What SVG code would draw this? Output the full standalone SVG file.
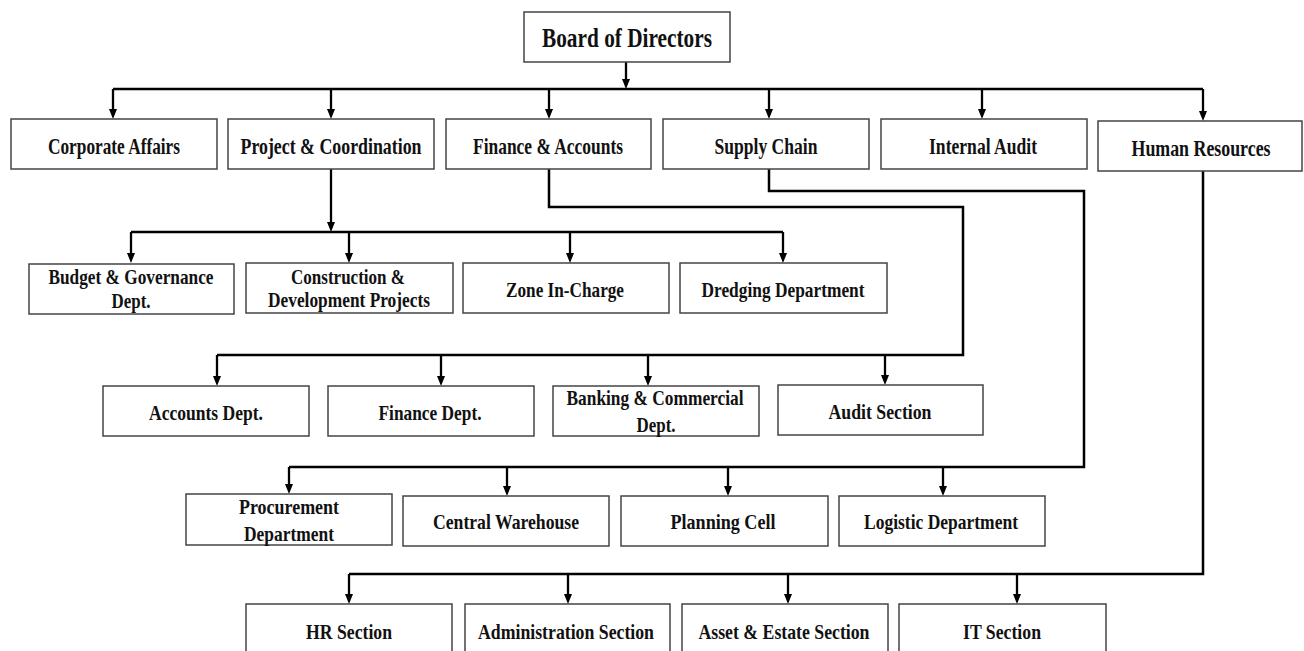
<svg xmlns="http://www.w3.org/2000/svg" width="1304" height="651" viewBox="0 0 1304 651">
<style>
.box{fill:#fff;stroke:#444;stroke-width:1.5}
.t{font-family:"Liberation Serif","Times New Roman",serif;font-weight:bold;font-size:22px;fill:#111;text-anchor:middle}
.t1{font-size:23px}
.tb{font-size:27px}
.c{fill:none;stroke:#000;stroke-width:2.3;marker-end:url(#ah)}
.b{fill:none;stroke:#000;stroke-width:2.5}
</style>
<defs>
<marker id="ah" markerUnits="userSpaceOnUse" markerWidth="10" markerHeight="8" refX="4" refY="4" orient="auto">
<path d="M0,0 L10,4 L0,8 z" fill="#000"/>
</marker>
</defs>
<rect width="1304" height="651" fill="#fff"/>
<g id="connectors">
<path class="c" d="M626,62 V83"/>
<path class="b" d="M113,89 H1203"/>
<path class="c" d="M113,89 V113"/>
<path class="c" d="M331,89 V113"/>
<path class="c" d="M549,89 V113"/>
<path class="c" d="M769,89 V113"/>
<path class="c" d="M982,89 V113"/>
<path class="c" d="M1203,89 V115"/>
<path class="c" d="M331,169 V226"/>
<path class="b" d="M131,232 H783"/>
<path class="c" d="M131,232 V257"/>
<path class="c" d="M349,232 V257"/>
<path class="c" d="M570,232 V257"/>
<path class="c" d="M783,232 V257"/>
<path class="b" d="M549,169 V207 H963 V355 H217"/>
<path class="c" d="M217,355 V380"/>
<path class="c" d="M441,355 V380"/>
<path class="c" d="M648,355 V380"/>
<path class="c" d="M885,355 V379"/>
<path class="b" d="M769,169 V191 H1084 V467 H289"/>
<path class="c" d="M289,467 V488"/>
<path class="c" d="M507,467 V490"/>
<path class="c" d="M728,467 V490"/>
<path class="c" d="M943,467 V490"/>
<path class="b" d="M1203,171 V574 H349"/>
<path class="c" d="M349,574 V598"/>
<path class="c" d="M568,574 V598"/>
<path class="c" d="M788,574 V598"/>
<path class="c" d="M1017,574 V598"/>
</g>
<g id="board"><rect class="box" x="524" y="12" width="206" height="50"/><text class="t tb" x="627" y="47" textLength="170" lengthAdjust="spacingAndGlyphs">Board of Directors</text></g>
<g id="corporate-affairs"><rect class="box" x="11" y="119" width="206" height="50"/><text class="t t1" x="114" y="154" textLength="132" lengthAdjust="spacingAndGlyphs">Corporate Affairs</text></g>
<g id="project-coordination"><rect class="box" x="228" y="119" width="206" height="50"/><text class="t t1" x="331" y="154" textLength="181" lengthAdjust="spacingAndGlyphs">Project &amp; Coordination</text></g>
<g id="finance-accounts"><rect class="box" x="446" y="119" width="205" height="50"/><text class="t t1" x="548" y="154" textLength="150" lengthAdjust="spacingAndGlyphs">Finance &amp; Accounts</text></g>
<g id="supply-chain"><rect class="box" x="663" y="119" width="206" height="50"/><text class="t t1" x="766" y="154" textLength="103" lengthAdjust="spacingAndGlyphs">Supply Chain</text></g>
<g id="internal-audit"><rect class="box" x="881" y="119" width="206" height="50"/><text class="t t1" x="983" y="154" textLength="108" lengthAdjust="spacingAndGlyphs">Internal Audit</text></g>
<g id="human-resources"><rect class="box" x="1098" y="121" width="204" height="50"/><text class="t t1" x="1201" y="156" textLength="139" lengthAdjust="spacingAndGlyphs">Human Resources</text></g>
<g id="budget"><rect class="box" x="29" y="264" width="205" height="50"/><text class="t" x="131" y="284" textLength="165" lengthAdjust="spacingAndGlyphs">Budget &amp; Governance</text><text class="t" x="131" y="308" textLength="39" lengthAdjust="spacingAndGlyphs">Dept.</text></g>
<g id="construction"><rect class="box" x="246" y="263" width="207" height="50"/><text class="t" x="348" y="284" textLength="114" lengthAdjust="spacingAndGlyphs">Construction &amp;</text><text class="t" x="349" y="307" textLength="162" lengthAdjust="spacingAndGlyphs">Development Projects</text></g>
<g id="zone"><rect class="box" x="463" y="263" width="206" height="50"/><text class="t" x="565" y="297" textLength="118" lengthAdjust="spacingAndGlyphs">Zone In-Charge</text></g>
<g id="dredging"><rect class="box" x="680" y="263" width="207" height="50"/><text class="t" x="783" y="297" textLength="163" lengthAdjust="spacingAndGlyphs">Dredging Department</text></g>
<g id="accounts-dept"><rect class="box" x="103" y="386" width="206" height="50"/><text class="t" x="206" y="420" textLength="114" lengthAdjust="spacingAndGlyphs">Accounts Dept.</text></g>
<g id="finance-dept"><rect class="box" x="328" y="386" width="206" height="50"/><text class="t" x="430" y="420" textLength="103" lengthAdjust="spacingAndGlyphs">Finance Dept.</text></g>
<g id="banking"><rect class="box" x="553" y="386" width="206" height="50"/><text class="t" x="655" y="405" textLength="177" lengthAdjust="spacingAndGlyphs">Banking &amp; Commercial</text><text class="t" x="656" y="432" textLength="39" lengthAdjust="spacingAndGlyphs">Dept.</text></g>
<g id="audit-section"><rect class="box" x="778" y="385" width="205" height="50"/><text class="t" x="880" y="419" textLength="103" lengthAdjust="spacingAndGlyphs">Audit Section</text></g>
<g id="procurement"><rect class="box" x="186" y="494" width="206" height="51"/><text class="t" x="289" y="514" textLength="100" lengthAdjust="spacingAndGlyphs">Procurement</text><text class="t" x="289" y="541" textLength="90" lengthAdjust="spacingAndGlyphs">Department</text></g>
<g id="central-warehouse"><rect class="box" x="403" y="496" width="206" height="50"/><text class="t" x="506" y="529" textLength="146" lengthAdjust="spacingAndGlyphs">Central Warehouse</text></g>
<g id="planning-cell"><rect class="box" x="621" y="496" width="207" height="50"/><text class="t" x="723" y="529" textLength="105" lengthAdjust="spacingAndGlyphs">Planning Cell</text></g>
<g id="logistic"><rect class="box" x="839" y="496" width="206" height="50"/><text class="t" x="941" y="529" textLength="154" lengthAdjust="spacingAndGlyphs">Logistic Department</text></g>
<g id="hr-section"><rect class="box" x="246" y="604" width="206" height="50"/><text class="t" x="349" y="639" textLength="86" lengthAdjust="spacingAndGlyphs">HR Section</text></g>
<g id="administration"><rect class="box" x="465" y="604" width="205" height="50"/><text class="t" x="566" y="639" textLength="176" lengthAdjust="spacingAndGlyphs">Administration Section</text></g>
<g id="asset-estate"><rect class="box" x="682" y="604" width="206" height="50"/><text class="t" x="784" y="639" textLength="171" lengthAdjust="spacingAndGlyphs">Asset &amp; Estate Section</text></g>
<g id="it-section"><rect class="box" x="899" y="604" width="207" height="50"/><text class="t" x="1002" y="639" textLength="78" lengthAdjust="spacingAndGlyphs">IT Section</text></g>
</svg>
